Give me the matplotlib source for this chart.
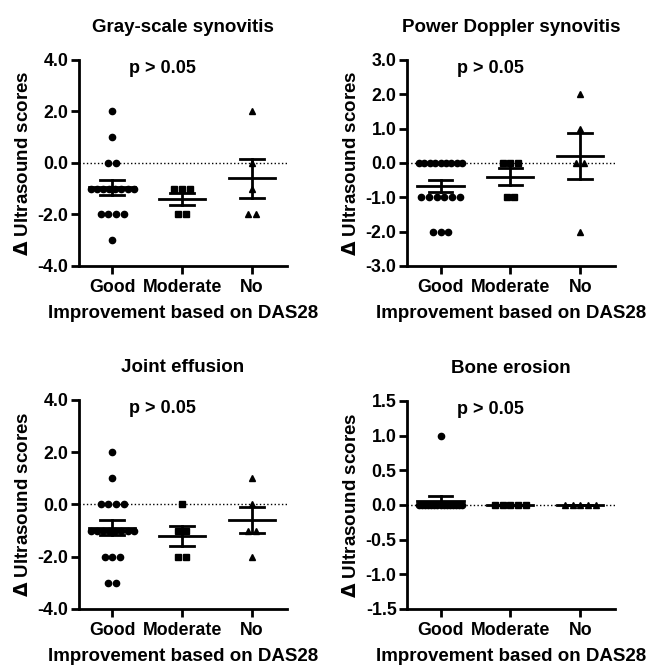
import numpy as np
import matplotlib
matplotlib.use("Agg")
import matplotlib.pyplot as plt

plt.rcParams['font.family'] = ['Liberation Sans', 'DejaVu Sans']
plt.rcParams['font.weight'] = 'bold'
plt.rcParams['axes.unicode_minus'] = False

# Data (change in ultrasound score per patient)
groups = ['Good', 'Moderate', 'No']
markers = ['o', 's', '^']

gs_good = [2, 1, 0, 0, -1, -1, -1, -1, -1, -1, -1, -1, -2, -2, -2, -2, -3]
gs_moderate = [-1, -1, -1, -2, -2]
gs_no = [2, 0, -1, -2, -2]

pd_good = [0, 0, 0, 0, 0, 0, 0, 0, 0, -1, -1, -1, -1, -1, -1, -2, -2, -2]
pd_moderate = [0, 0, 0, -1, -1]
pd_no = [2, 1, 0, 0, -2]

je_good = [2, 1, 0, 0, 0, 0, -1, -1, -1, -1, -1, -1, -1, -1, -2, -2, -2, -3, -3]
je_moderate = [0, -1, -1, -2, -2]
je_no = [1, 0, -1, -1, -2]

be_good = [1] + [0] * 15
be_moderate = [0, 0, 0, 0, 0]
be_no = [0, 0, 0, 0, 0]

titles = ['Gray-scale synovitis', 'Power Doppler synovitis', 'Joint effusion', 'Bone erosion']
ylims = [(-4, 4), (-3, 3), (-4, 4), (-1.5, 1.5)]
ysteps = [2.0, 1.0, 2.0, 0.5]
panels = [
    [gs_good, gs_moderate, gs_no],
    [pd_good, pd_moderate, pd_no],
    [je_good, je_moderate, je_no],
    [be_good, be_moderate, be_no],
]

fig = plt.figure(figsize=(6.61, 6.71), dpi=100)
positions = [
    [0.119, 0.6036, 0.315, 0.307],
    [0.6157, 0.6036, 0.315, 0.307],
    [0.119, 0.0924, 0.315, 0.3115],
    [0.6157, 0.0924, 0.315, 0.3100],
]


def swarm_x(values, center):
    # spread equal values side by side around the category position
    values = np.asarray(values, dtype=float)
    xs = np.zeros(len(values))
    for v in np.unique(values):
        idx = np.where(values == v)[0]
        k = len(idx)
        span = min(0.62, 0.11 * (k - 1))
        if k > 1:
            xs[idx] = center + np.linspace(-span / 2, span / 2, k)
        else:
            xs[idx] = center
    return xs


for p in range(4):
    ax = fig.add_axes(positions[p])
    lo, hi = ylims[p]
    ax.axhline(0, color='black', linestyle=':', linewidth=1, zorder=1)
    for i, vals in enumerate(panels[p]):
        xs = swarm_x(vals, i)
        ax.plot(xs, vals, linestyle='none', marker=markers[i], color='black',
                markersize=4.5, zorder=2)
        m = np.mean(vals)
        sem = np.std(vals, ddof=1) / np.sqrt(len(vals))
        ax.plot([i - 0.33, i + 0.33], [m, m], color='black', linewidth=2, zorder=3)
        ax.plot([i, i], [m - sem, m + sem], color='black', linewidth=2, zorder=3)
        ax.plot([i - 0.17, i + 0.17], [m + sem, m + sem], color='black', linewidth=2, zorder=3)
        ax.plot([i - 0.17, i + 0.17], [m - sem, m - sem], color='black', linewidth=2, zorder=3)

    ax.set_xlim(-0.48, 2.5)
    ax.set_ylim(lo, hi)
    yt = np.arange(lo, hi + 0.001, ysteps[p])
    ax.set_yticks(yt)
    ax.set_yticklabels(['%.1f' % t for t in yt], fontweight='bold')
    ax.set_xticks(range(3))
    ax.set_xticklabels(groups, fontweight='bold')
    ax.spines['top'].set_visible(False)
    ax.spines['right'].set_visible(False)
    ax.spines['left'].set_linewidth(2)
    ax.spines['bottom'].set_linewidth(2)
    ax.tick_params(direction='out', length=5.5, width=2, labelsize=12.8, pad=2)
    ax.tick_params(axis='x', pad=4)
    ax.set_title(titles[p], fontsize=13.5, fontweight='bold', pad=20)
    ax.set_ylabel(r'$\Delta$ Ultrasound scores', fontsize=13.5, fontweight='bold', labelpad=4)
    ax.set_xlabel('Improvement based on DAS28', fontsize=13.5, fontweight='bold', labelpad=6)
    ax.text(0.40, 0.958, 'p > 0.05', transform=ax.transAxes, ha='center', va='center',
            fontsize=13, fontweight='bold')

plt.savefig('out.png', dpi=100)
plt.close()
